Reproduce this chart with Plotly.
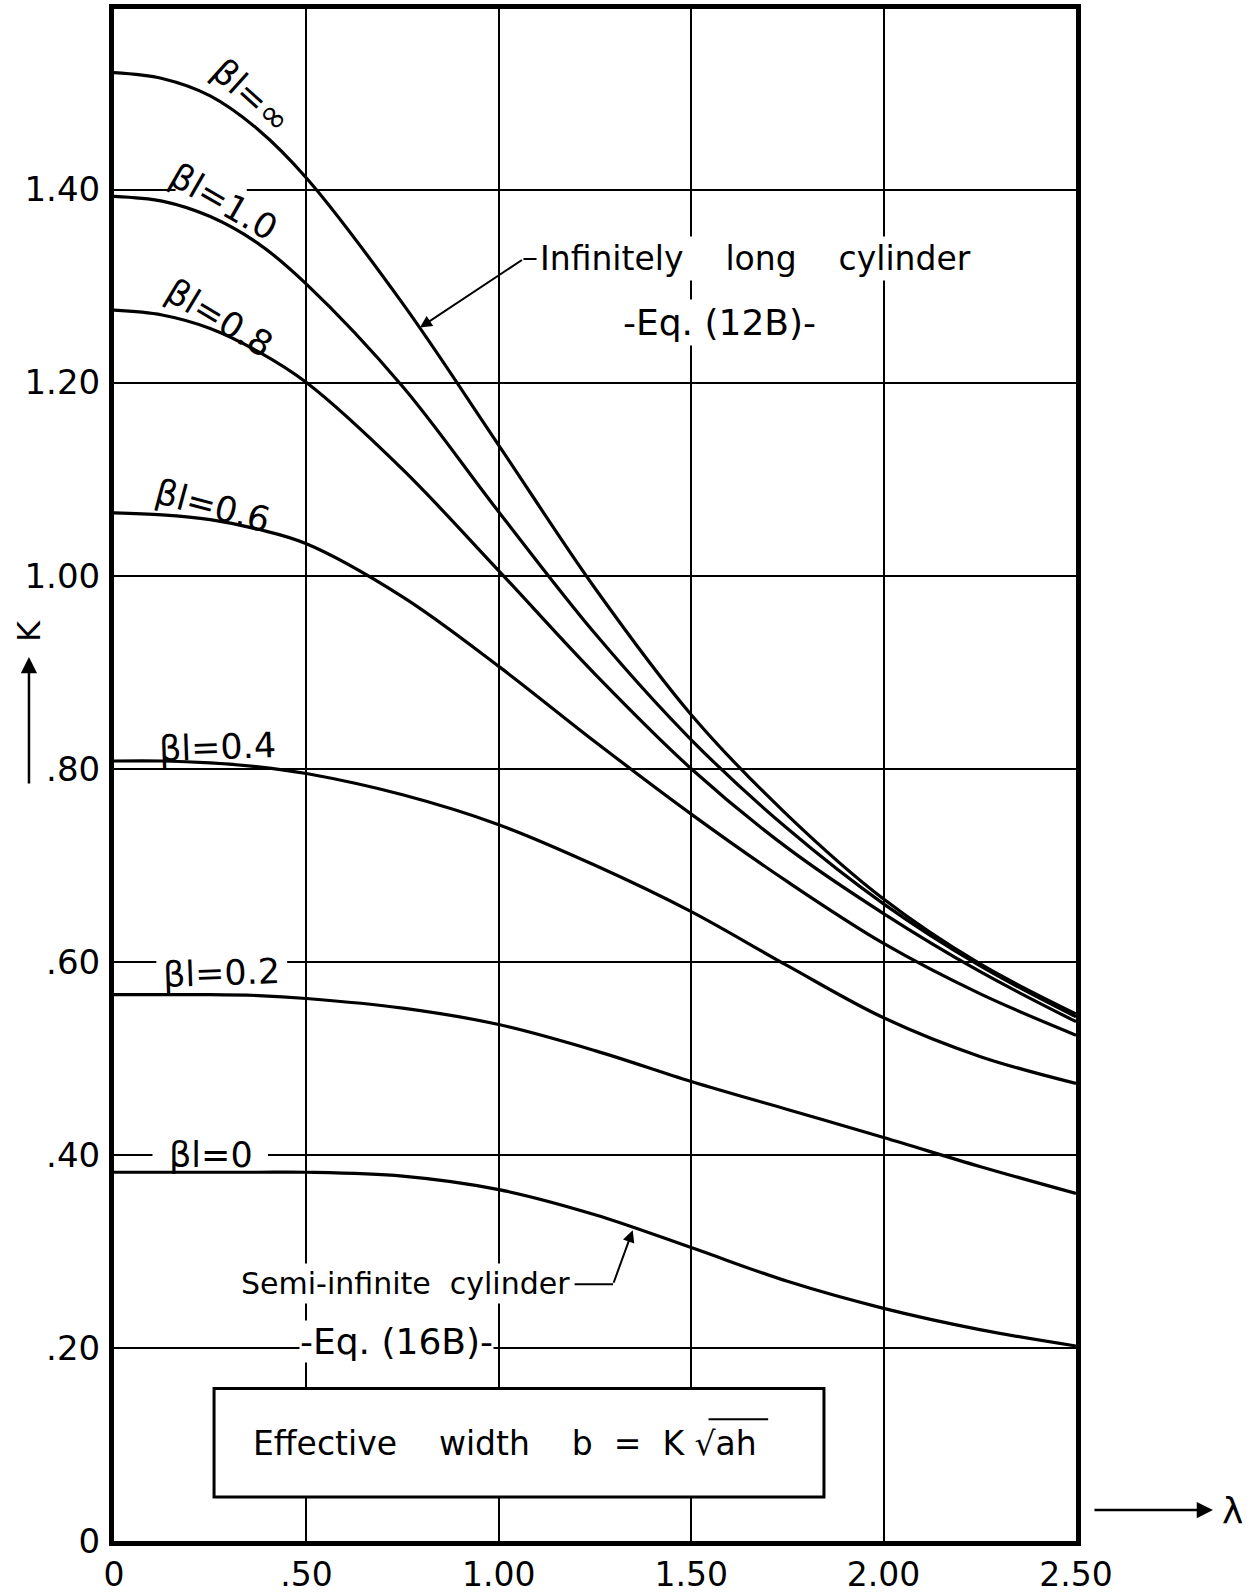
import plotly.graph_objects as go

# ---- data ----
lam = [0.0, 0.125, 0.25, 0.375, 0.5, 0.75, 1.0, 1.25, 1.5, 1.75, 2.0, 2.25, 2.5]
K_inf = [1.521, 1.515, 1.497, 1.462, 1.412, 1.282, 1.135, 0.987, 0.856, 0.752, 0.665, 0.598, 0.546]
K_10 = [1.393, 1.388, 1.372, 1.344, 1.302, 1.196, 1.066, 0.940, 0.830, 0.738, 0.660, 0.596, 0.543]
K_08 = [1.275, 1.270, 1.256, 1.232, 1.200, 1.110, 1.005, 0.898, 0.800, 0.718, 0.650, 0.590, 0.538]
K_06 = [1.065, 1.063, 1.058, 1.048, 1.033, 0.978, 0.906, 0.828, 0.753, 0.683, 0.619, 0.567, 0.524]
K_04 = [0.808, 0.808, 0.806, 0.802, 0.795, 0.773, 0.742, 0.700, 0.652, 0.596, 0.542, 0.502, 0.474]
K_02 = [0.566, 0.566, 0.566, 0.565, 0.562, 0.552, 0.535, 0.508, 0.476, 0.447, 0.418, 0.388, 0.360]
K_00 = [0.382, 0.382, 0.382, 0.382, 0.382, 0.378, 0.364, 0.338, 0.304, 0.269, 0.241, 0.219, 0.202]

series = [K_inf, K_10, K_08, K_06, K_04, K_02, K_00]
curve_labels = ["βl=∞", "βl=1.0", "βl=0.8", "βl=0.6", "βl=0.4", "βl=0.2", "βl=0"]

x_tickvals = [0, 0.5, 1.0, 1.5, 2.0, 2.5]
x_ticktext = ["0", ".50", "1.00", "1.50", "2.00", "2.50"]
y_tickvals = [0, 0.2, 0.4, 0.6, 0.8, 1.0, 1.2, 1.4]
y_ticktext = ["0", ".20", ".40", ".60", ".80", "1.00", "1.20", "1.40"]

FONT = "DejaVu Sans"
NB = "\u00a0"

fig = go.Figure()
for s in series:
    fig.add_trace(go.Scatter(x=lam, y=s, mode="lines",
                             line=dict(color="black", width=3.2, shape="spline", smoothing=1.0),
                             showlegend=False, hoverinfo="skip"))

# gaps in grid lines behind curve labels (drawn between grid and curves)
for gx0, gx1, gy0, gy1 in [(0.16, 0.345, 1.392, 1.408), (0.11, 0.45, 0.592, 0.608),
                           (0.10, 0.40, 0.392, 0.408)]:
    fig.add_shape(type="rect", x0=gx0, x1=gx1, y0=gy0, y1=gy1, layer="between",
                  fillcolor="white", line=dict(width=0))

# curve labels: (x, y, angle)
label_pos = [(0.357, 1.497, 42), (0.285, 1.387, 30), (0.274, 1.267, 31),
             (0.257, 1.072, 15), (0.27, 0.822, -2), (0.28, 0.588, -2), (0.251, 0.400, 0)]
for (lx, ly, ang), txt in zip(label_pos, curve_labels):
    fig.add_annotation(x=lx, y=ly, text=txt, showarrow=False, textangle=ang,
                       xanchor="center", yanchor="middle",
                       font=dict(family=FONT, size=35, color="black"))

# Infinitely long cylinder
fig.add_annotation(x=1.100, y=1.329, xanchor="left", yanchor="middle", showarrow=False,
                   text="Infinitely" + NB * 4 + "long" + NB * 4 + "cylinder",
                   font=dict(family=FONT, size=33, color="black"),
                   bgcolor="white", borderpad=2)
fig.add_annotation(x=1.574, y=1.262, showarrow=False, text="-Eq." + NB + "(12B)-",
                   xanchor="center", yanchor="middle",
                   font=dict(family=FONT, size=36, color="black"),
                   bgcolor="white", borderpad=2)
fig.add_shape(type="line", x0=1.064, y0=1.328, x1=1.098, y1=1.328,
              line=dict(color="black", width=2))
fig.add_annotation(x=0.795, y=1.257, ax=1.064, ay=1.328, axref="x", ayref="y",
                   xref="x", yref="y", showarrow=True, arrowhead=2, arrowsize=1.2,
                   arrowwidth=2, arrowcolor="black", text="")

# Semi-infinite cylinder
fig.add_annotation(x=1.192, y=0.267, xanchor="right", yanchor="middle", showarrow=False,
                   text="Semi-infinite" + NB * 2 + "cylinder",
                   font=dict(family=FONT, size=30, color="black"),
                   bgcolor="white", borderpad=2)
fig.add_shape(type="line", x0=1.197, y0=0.266, x1=1.297, y1=0.266,
              line=dict(color="black", width=2))
fig.add_annotation(x=1.348, y=0.322, ax=1.297, ay=0.266, axref="x", ayref="y",
                   xref="x", yref="y", showarrow=True, arrowhead=2, arrowsize=1.2,
                   arrowwidth=2, arrowcolor="black", text="")
fig.add_annotation(x=0.735, y=0.207, showarrow=False, text="-Eq." + NB + "(16B)-",
                   xanchor="center", yanchor="middle",
                   font=dict(family=FONT, size=36, color="black"),
                   bgcolor="white", borderpad=0)

# Effective width box
fig.add_shape(type="rect", x0=0.260, y0=0.0456, x1=1.845, y1=0.158,
              line=dict(color="black", width=3), fillcolor="white", layer="above")
fig.add_annotation(x=1.015, y=0.101, showarrow=False, xanchor="center", yanchor="middle",
                   text="Effective" + NB * 4 + "width" + NB * 4 + "b" + NB * 2 + "=" + NB * 2 + "K" + NB + "√ah",
                   font=dict(family=FONT, size=33, color="black"))
fig.add_shape(type="line", x0=1.545, y0=0.126, x1=1.70, y1=0.126,
              line=dict(color="black", width=2))

# axis arrows and symbols (paper coordinates)
fig.add_annotation(xref="paper", yref="paper", x=-0.0884, y=0.594, text="K", textangle=-90,
                   xanchor="center", yanchor="middle",
                   showarrow=False, font=dict(family=FONT, size=32, color="black"))
fig.add_annotation(xref="paper", yref="paper", x=-0.0884, y=0.577, ax=0, ay=128,
                   showarrow=True, arrowhead=2, arrowsize=1.3, arrowwidth=2.5,
                   arrowcolor="black", text="")
fig.add_annotation(xref="paper", yref="paper", x=1.1424, y=0.0202, ax=-120, ay=0,
                   showarrow=True, arrowhead=2, arrowsize=1.3, arrowwidth=2.5,
                   arrowcolor="black", text="")
fig.add_annotation(xref="paper", yref="paper", x=1.163, y=0.0196, text="λ",
                   xanchor="center", yanchor="middle",
                   showarrow=False, font=dict(family=FONT, size=36, color="black"))

fig.update_xaxes(range=[0, 2.5], tickvals=x_tickvals, ticktext=x_ticktext,
                 showgrid=True, gridcolor="black", gridwidth=1.6, zeroline=False,
                 showline=True, linecolor="black", linewidth=5, mirror=True,
                 ticks="", ticklabelstandoff=0,
                 tickfont=dict(family=FONT, size=33, color="black"))
fig.update_yaxes(range=[0, 1.587], tickvals=y_tickvals, ticktext=y_ticktext,
                 showgrid=True, gridcolor="black", gridwidth=1.6, zeroline=False,
                 showline=True, linecolor="black", linewidth=5, mirror=True,
                 ticks="", ticklabelstandoff=2,
                 tickfont=dict(family=FONT, size=34, color="black"))

fig.update_layout(width=1259, height=1594, paper_bgcolor="white", plot_bgcolor="white",
                  margin=dict(l=114, r=183, t=9, b=53, autoexpand=False), showlegend=False)

fig.write_html("out.html", config={"displayModeBar": False},
               post_script="document.body.style.margin='0';"
                           "document.documentElement.style.overflow='hidden';")
